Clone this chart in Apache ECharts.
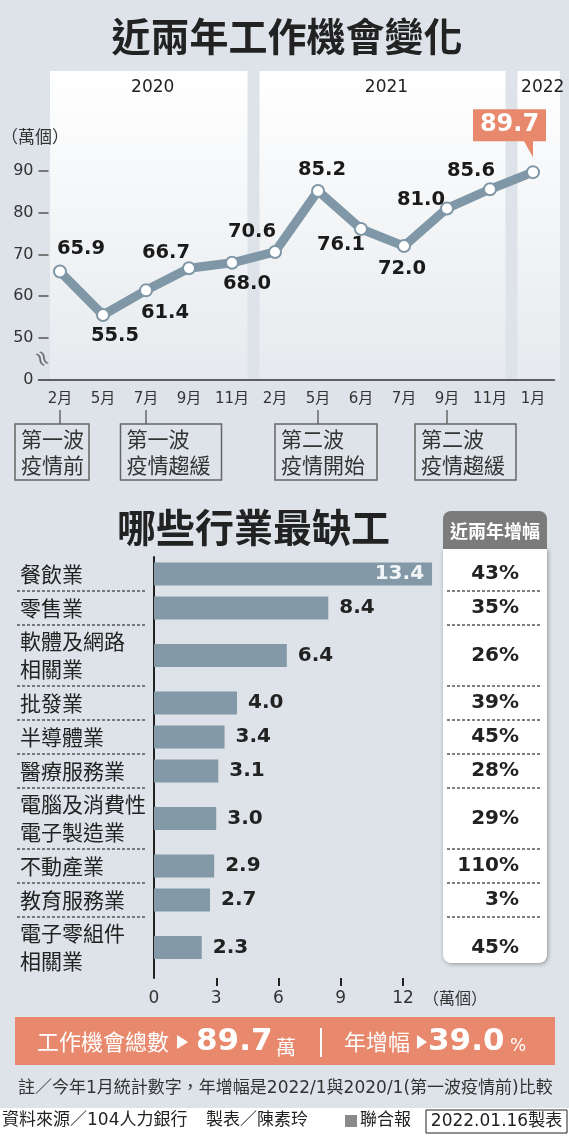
<!DOCTYPE html>
<html>
<head>
    <meta charset="utf-8" />
    <title>近兩年工作機會變化</title>
    <script src="https://cdn.jsdelivr.net/npm/echarts@6.0.0/dist/echarts.min.js"></script>
    <style>
        html, body { margin: 0; padding: 0; background: #fff; }
        #main { width: 569px; height: 1140px; }
    </style>
</head>
<body>
<div id="main"></div>
<script type="text/javascript">
    // 上半部：近兩年工作機會（萬個）
    let months = ['2月', '5月', '7月', '9月', '11月', '2月', '5月', '6月', '7月', '9月', '11月', '1月'];
    let jobs = [65.9, 55.5, 61.4, 66.7, 68.0, 70.6, 85.2, 76.1, 72.0, 81.0, 85.6, 89.7];
    let years = ['2020', '2021', '2022'];
    let yearSpans = [[0, 4], [5, 10], [11, 11]];   // 每年涵蓋的月份 index
    let yTicks = [40, 50, 60, 70, 80, 90];          // 40 以下為斷軸，標成 0
    let yTickLabels = ['0', '50', '60', '70', '80', '90'];
    let noteTexts = ['第一波\n疫情前', '第一波\n疫情趨緩', '第二波\n疫情開始', '第二波\n疫情趨緩'];
    let noteAt = [0, 2, 6, 9];

    // 下半部：哪些行業最缺工（萬個）
    let industries = ['餐飲業', '零售業', '軟體及網路\n相關業', '批發業', '半導體業', '醫療服務業',
        '電腦及消費性\n電子製造業', '不動產業', '教育服務業', '電子零組件\n相關業'];
    let openings = [13.4, 8.4, 6.4, 4.0, 3.4, 3.1, 3.0, 2.9, 2.7, 2.3];
    let growth = ['43%', '35%', '26%', '39%', '45%', '28%', '29%', '110%', '3%', '45%'];
    let barTicks = [0, 3, 6, 9, 12];
    let yearGrowth = 39.0;

    // 樣式
    const BG = '#dde3e9';
    const LINE = '#7f97a6';
    const BAR = '#8499a8';
    const ORANGE = '#e8896d';
    const INK = '#222';
    const NUM = "'DejaVu Sans','Noto Sans CJK TC',sans-serif";
    const CJK = "'Noto Sans CJK TC',sans-serif";

    // 折線標籤相對於點的位移
    let labelOffsets = [[21, -23], [12, 21], [19, 23], [-23, -15], [15, 21], [-23, -20],
        [4, -21], [-20, 16], [-2, 23], [-26, -9], [-19, -18], [0, 0]];
    let last = jobs.length - 1;

    // 行業列的高度：依標籤行數
    let rowTops = [], rowHs = [];
    let yCursor = 557;
    industries.forEach(function (name) {
        let h = 7 + 27 * name.split('\n').length;
        rowTops.push(yCursor);
        rowHs.push(h);
        yCursor += h;
    });

    let grids = [{left: 38.5, right: 14.5, top: 150, bottom: 760.25}];
    let xAxes = [{
        gridIndex: 0, type: 'category', data: months, boundaryGap: true,
        axisLine: {lineStyle: {color: '#333', width: 1.5}},
        axisTick: {show: false},
        axisLabel: {interval: 0, fontFamily: NUM, fontSize: 15, color: '#333', margin: 12}
    }];
    let yAxes = [{
        gridIndex: 0, type: 'value', min: 40, max: 95,
        axisLine: {show: false},
        splitLine: {show: false},
        axisTick: {show: true, inside: true, length: 10, customValues: yTicks.slice(1),
            lineStyle: {color: '#555', width: 1.5}},
        axisLabel: {customValues: yTicks, formatter: function (v) { return yTickLabels[yTicks.indexOf(v)]; },
            fontFamily: NUM, fontSize: 16, color: '#333', margin: 5, padding: [0, 0, 8, 0]}
    }];
    let series = [{
        type: 'line', xAxisIndex: 0, yAxisIndex: 0, z: 3,
        data: jobs.map(function (v, i) {
            return {value: v, label: i === last ? {show: false} : {offset: labelOffsets[i]}};
        }),
        lineStyle: {width: 9, color: LINE, cap: 'round', join: 'round'},
        symbol: 'circle', symbolSize: 12,
        itemStyle: {color: '#fff', borderColor: LINE, borderWidth: 2},
        label: {show: true, position: 'inside', fontFamily: NUM, fontWeight: 'bold', fontSize: 19.5, color: '#1a1a1a',
            formatter: function (p) { return p.value.toFixed(1); }},
        emphasis: {disabled: true},
        markPoint: {
            symbol: 'path://M0,0L73,0L73,32L60,32L60,48L51,32L0,32Z',
            symbolSize: [73, 48],
            symbolKeepAspect: false,
            symbolOffset: [-23.5, -39],
            itemStyle: {color: ORANGE},
            label: {show: true, position: 'inside', offset: [0, -8], color: '#fff', fontFamily: NUM,
                fontWeight: 'bold', fontSize: 24, formatter: function (p) { return p.value.toFixed(1); }},
            emphasis: {disabled: true},
            data: [{coord: [last, jobs[last]], value: jobs[last]}]
        }
    }];

    let maxOpen = Math.max.apply(null, openings);
    industries.forEach(function (name, i) {
        let isLast = i === industries.length - 1;
        grids.push({left: 154, right: 103.75, top: rowTops[i], height: rowHs[i]});
        xAxes.push({
            gridIndex: i + 1, type: 'value', min: 0, max: 15, show: isLast,
            axisLine: {show: false}, splitLine: {show: false},
            axisTick: {show: true, customValues: barTicks.slice(1), length: 8, lineStyle: {color: INK, width: 2}},
            axisLabel: {customValues: barTicks, fontFamily: NUM, fontSize: 17, color: '#333', margin: 12}
        });
        yAxes.push({
            gridIndex: i + 1, type: 'category', data: [name],
            axisLine: {show: true, lineStyle: {color: INK, width: 2}},
            axisTick: {show: false},
            axisLabel: {align: 'left', margin: 134, fontFamily: CJK, fontSize: 21, lineHeight: 28, color: INK}
        });
        yAxes.push({
            gridIndex: i + 1, type: 'category', position: 'right', data: [growth[i]],
            axisLine: {show: false}, axisTick: {show: false},
            axisLabel: {align: 'right', margin: 53.75, fontFamily: NUM, fontWeight: 'bold', fontSize: 20, color: INK}
        });
        let inside = openings[i] === maxOpen;
        series.push({
            type: 'bar', xAxisIndex: i + 1, yAxisIndex: 1 + 2 * i,
            data: [openings[i]], barWidth: 23,
            itemStyle: {color: BAR},
            emphasis: {disabled: true},
            label: {show: true, position: inside ? 'insideRight' : 'right', distance: inside ? 8 : 11,
                color: inside ? '#f2f5f7' : INK, fontFamily: NUM, fontWeight: 'bold', fontSize: 20,
                formatter: function (p) { return p.value.toFixed(1); }}
        });
    });

    let chart = echarts.init(document.getElementById('main'));
    chart.setOption({
        animation: false,
        backgroundColor: '#fff',
        grid: grids,
        xAxis: xAxes,
        yAxis: yAxes,
        series: series
    });

    // 依座標軸算出裝飾位置
    let cx = function (i) { return chart.convertToPixel({xAxisIndex: 0}, i); };
    let half = (cx(1) - cx(0)) / 2;
    let axisY = chart.convertToPixel({yAxisIndex: 0}, 40);

    let g = [];
    g.push({type: 'rect', z: -10, shape: {x: 0, y: 0, width: 569, height: 1108}, style: {fill: BG}});
    g.push({type: 'text', style: {text: '近兩年工作機會變化', x: 287, y: 36, align: 'center', verticalAlign: 'middle',
            font: 'bold 39px ' + CJK, fill: INK}});

    yearSpans.forEach(function (s, k) {
        let x0 = cx(s[0]) - half + 6, x1 = cx(s[1]) + half - 6;
        if (k === 0) x0 += 5.5;
        if (k === yearSpans.length - 1) x1 += 11.5;
        g.push({type: 'rect', z: -9, shape: {x: x0, y: 71, width: x1 - x0, height: axisY - 71},
            style: {fill: new echarts.graphic.LinearGradient(0, 0, 0, 1, [
                {offset: 0, color: '#ffffff'}, {offset: 1, color: '#e6eaee'}])}});
        g.push({type: 'text', style: {text: years[k], x: (x0 + x1) / 2 + 4, y: 88, align: 'center',
                verticalAlign: 'middle', font: '17px ' + NUM, fill: INK}});
    });

    g.push({type: 'text', style: {text: '（萬個）', x: 1, y: 137, verticalAlign: 'middle', font: '17px ' + CJK, fill: '#333'}});
    g.push({type: 'text', x: 41, y: 359, rotation: -1.1, style: {text: '≈', x: 0, y: 0, align: 'center',
            verticalAlign: 'middle', font: '22px ' + NUM, fill: '#6f6f6f'}});

    let noteLefts = [-45, -25.5, -43, -32];
    let noteWidths = [74, 101, 102, 101];
    noteTexts.forEach(function (t, k) {
        let px = cx(noteAt[k]);
        let bx = px + noteLefts[k];
        g.push({type: 'line', shape: {x1: px, y1: 410, x2: px, y2: 424}, style: {stroke: '#666', lineWidth: 1.5}});
        g.push({type: 'rect', shape: {x: bx, y: 424, width: noteWidths[k], height: 56},
            style: {fill: 'none', stroke: '#666', lineWidth: 1.5}});
        g.push({type: 'text', style: {text: t, x: bx + 6, y: 452, verticalAlign: 'middle', lineHeight: 26,
                font: '21px ' + CJK, fill: '#333'}});
    });

    // 行業
    g.push({type: 'text', style: {text: '哪些行業最缺工', x: 253.5, y: 527, align: 'center', verticalAlign: 'middle',
            font: 'bold 39px ' + CJK, fill: INK}});
    g.push({type: 'rect', z: -5, shape: {x: 443, y: 549, width: 104, height: 414, r: [0, 0, 8, 8]},
        style: {fill: '#fff', shadowBlur: 4, shadowColor: 'rgba(0,0,0,0.35)', shadowOffsetX: 1, shadowOffsetY: 1}});
    g.push({type: 'rect', z: -5, shape: {x: 443, y: 511, width: 104, height: 38, r: [8, 8, 0, 0]},
        style: {fill: '#7b7b7b'}});
    g.push({type: 'text', style: {text: '近兩年增幅', x: 495, y: 531, align: 'center', verticalAlign: 'middle',
            font: 'bold 18px ' + CJK, fill: '#fff'}});
    rowTops.slice(1).forEach(function (y) {
        g.push({type: 'line', shape: {x1: 17, y1: y, x2: 145, y2: y}, style: {stroke: '#555', lineWidth: 1.3, lineDash: [3, 2]}});
        g.push({type: 'line', shape: {x1: 447, y1: y, x2: 542, y2: y}, style: {stroke: '#555', lineWidth: 1.3, lineDash: [3, 2]}});
    });
    g.push({type: 'text', style: {text: '（萬個）', x: 455, y: 998, align: 'center', verticalAlign: 'middle',
            font: '16px ' + CJK, fill: '#333'}});

    // 總數橫幅
    g.push({type: 'rect', shape: {x: 15, y: 1017, width: 540, height: 48}, style: {fill: ORANGE}});
    g.push({type: 'text', style: {text: '工作機會總數', x: 37, y: 1042, verticalAlign: 'middle', font: '22px ' + CJK, fill: '#fff'}});
    g.push({type: 'polygon', shape: {points: [[177, 1035], [188, 1042], [177, 1049]]}, style: {fill: '#fff'}});
    g.push({type: 'text', style: {text: jobs[last].toFixed(1), x: 196, y: 1042, verticalAlign: 'middle',
            font: 'bold 31px ' + NUM, fill: '#fff'}});
    g.push({type: 'text', style: {text: '萬', x: 276, y: 1047, verticalAlign: 'middle', font: '20px ' + CJK, fill: '#fff'}});
    g.push({type: 'line', shape: {x1: 321, y1: 1028, x2: 321, y2: 1057}, style: {stroke: '#fff', lineWidth: 2}});
    g.push({type: 'text', style: {text: '年增幅', x: 344, y: 1042, verticalAlign: 'middle', font: '22px ' + CJK, fill: '#fff'}});
    g.push({type: 'polygon', shape: {points: [[417, 1035], [427, 1042], [417, 1049]]}, style: {fill: '#fff'}});
    g.push({type: 'text', style: {text: yearGrowth.toFixed(1), x: 428, y: 1042, verticalAlign: 'middle',
            font: 'bold 31px ' + NUM, fill: '#fff'}});
    g.push({type: 'text', style: {text: '%', x: 510, y: 1047, verticalAlign: 'middle', font: '17px ' + NUM, fill: '#fff'}});

    g.push({type: 'text', style: {text: '註／今年1月統計數字，年增幅是2022/1與2020/1(第一波疫情前)比較', x: 18, y: 1089,
            verticalAlign: 'middle', font: '17px ' + NUM, fill: '#333'}});

    // 頁尾
    g.push({type: 'text', style: {text: '資料來源／104人力銀行', x: 2, y: 1121, verticalAlign: 'middle', font: '17px ' + NUM, fill: INK}});
    g.push({type: 'text', style: {text: '製表／陳素玲', x: 206, y: 1121, verticalAlign: 'middle', font: '17px ' + NUM, fill: INK}});
    g.push({type: 'rect', shape: {x: 345, y: 1115, width: 12, height: 12}, style: {fill: '#8a8a8a'}});
    g.push({type: 'text', style: {text: '聯合報', x: 360, y: 1121, verticalAlign: 'middle', font: '17px ' + NUM, fill: INK}});
    g.push({type: 'rect', shape: {x: 426, y: 1110, width: 141, height: 23}, style: {fill: 'none', stroke: INK, lineWidth: 1}});
    g.push({type: 'text', style: {text: '2022.01.16製表', x: 496.5, y: 1121.5, align: 'center', verticalAlign: 'middle',
            font: '17px ' + NUM, fill: INK}});

    chart.setOption({graphic: {elements: g}});
</script>
</body>
</html>
